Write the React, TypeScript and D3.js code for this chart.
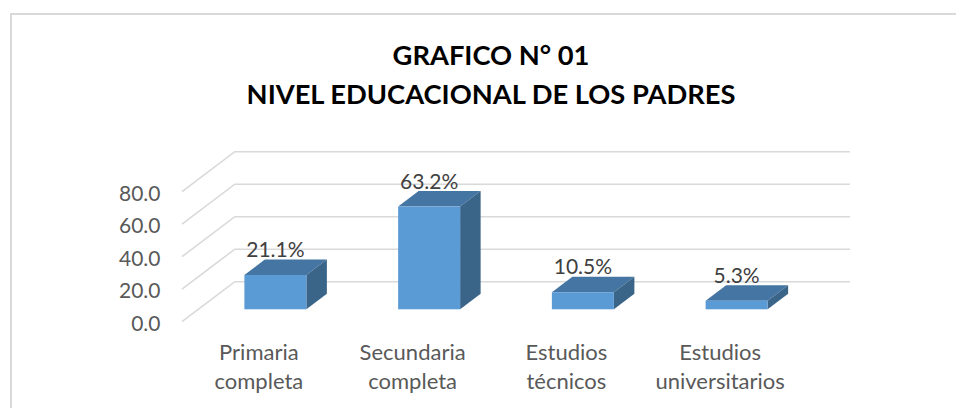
import React from "react";
import * as d3 from "d3";

const categories = [["Primaria", "completa"], ["Secundaria", "completa"], ["Estudios", "técnicos"], ["Estudios", "universitarios"]];
const values = [21.1, 63.2, 10.5, 5.3];
const valueLabels = ["21.1%", "63.2%", "10.5%", "5.3%"];
const ticks = [0, 20, 40, 60, 80];
const titleLines = ["GRAFICO N° 01", "NIVEL EDUCACIONAL DE LOS PADRES"];

const W = 956, H = 408;
const FONT = "Lato, Carlito, sans-serif";
const y = d3.scaleLinear().domain([0, 80]).range([321.7, 191.7]);
const x = d3.scaleBand().domain(categories.map((_, i) => String(i))).range([182, 797]);
const DEPTH = { dx: 52.8, dy: -40 };
const BAR = { w: 62, dx: 20.5, dy: -15.5, floorDx: 16.5, floorDy: -12.4 };
const poly = (pts: number[][]) => (d3.line()(pts as [number, number][]) ?? "") + "Z";

export default function App() {
  return (
    <svg width={W} height={H} style={{ position: "absolute", left: 0, top: 0 }} fontFamily={FONT}>
      <rect width={W} height={H} fill="#fff" />
      <path d={`M11 ${H}V14H${W}`} fill="none" stroke="#d9d9d9" strokeWidth={2} />
      {titleLines.map((t, i) => (
        <text key={t} x={491} y={65 + i * 38.5} textAnchor="middle" fontSize={27.3} fontWeight={700} fill="#000">{t}</text>
      ))}
      {ticks.map((t) => (
        <g key={t}>
          <path d={`M182 ${y(t)}L${182 + DEPTH.dx} ${y(t) + DEPTH.dy}H850`} fill="none" stroke="#d9d9d9" strokeWidth={1.6} />
          <text x={160.5} y={y(t) + 9} textAnchor="end" fontSize={21} fill="#595959">{t.toFixed(1)}</text>
        </g>
      ))}
      {values.map((v, i) => {
        const c = x(String(i))! + x.bandwidth() / 2;
        const x0 = c - BAR.w / 2 + BAR.floorDx, x1 = x0 + BAR.w;
        const yb = y(0) + BAR.floorDy, yt = yb - (y(0) - y(v));
        return (
          <g key={i}>
            <path d={poly([[x0, yt], [x1, yt], [x1 + BAR.dx, yt + BAR.dy], [x0 + BAR.dx, yt + BAR.dy]])} fill="#4575a2" />
            <path d={poly([[x1, yt], [x1 + BAR.dx, yt + BAR.dy], [x1 + BAR.dx, yb + BAR.dy], [x1, yb]])} fill="#3a6488" />
            <rect x={x0} y={yt} width={BAR.w} height={yb - yt} fill="#5b9bd5" />
            <text x={x0 + 31} y={yt - 18} textAnchor="middle" fontSize={21} fill="#404040">{valueLabels[i]}</text>
          </g>
        );
      })}
      {categories.map((lines, i) => lines.map((l, j) => (
        <text key={l + i} x={x(String(i))! + x.bandwidth() / 2} y={360 + j * 29} textAnchor="middle" fontSize={22} fill="#595959">{l}</text>
      )))}
    </svg>
  );
}
